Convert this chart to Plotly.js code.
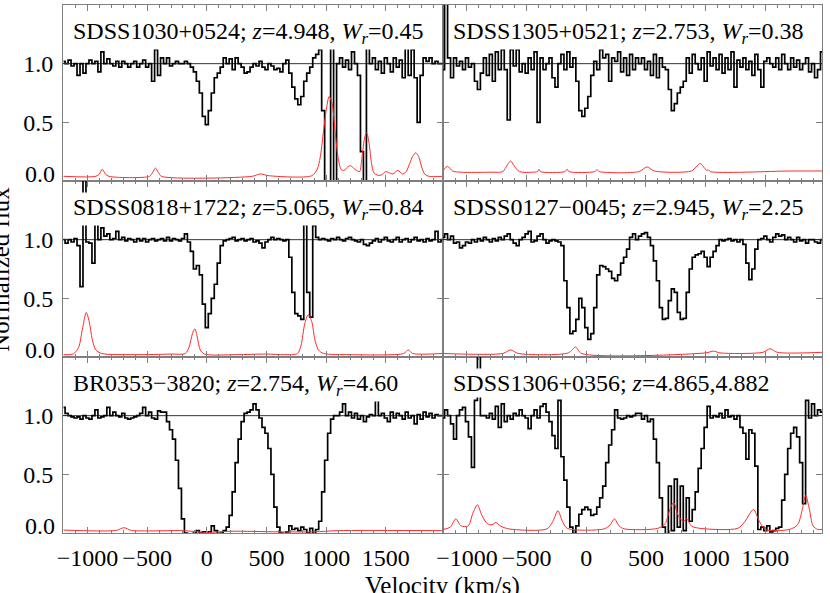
<!DOCTYPE html>
<html>
<head>
<meta charset="utf-8">
<script src="https://cdn.plot.ly/plotly-3.0.1.min.js"></script>
<style>html,body{margin:0;padding:0;background:#fff;}#chart{width:830px;height:593px;}</style>
</head>
<body>
<div id="chart"></div>
<script>
// ---------------- DATA ----------------
// velocity bins: start and width (km/s) of the binned spectra
const V0 = -1200;
const DV = 25;

const names = ["SDSS1030+0524", "SDSS1305+0521", "SDSS0818+1722", "SDSS0127\u22120045", "BR0353\u22123820", "SDSS1306+0356"];
const redshifts = ["4.948", "2.753", "5.065", "2.945", "2.754", "4.865,4.882"];
const widths = ["0.45", "0.38", "0.84", "2.25", "4.60", null];

const xTickVals = [-1000, -500, 0, 500, 1000, 1500];
const xTickText = ["\u22121000", "\u2212500", "0", "500", "1000", "1500"];
const yTickVals = [0.5, 1.0];
const yTickText = ["0.5", "1.0"];
const yZeroLabel = "0.0";

// normalized flux per panel
const flux1 = [
 1.02,1.0,1.03,0.98,1.0,0.9,1.0,0.92,1.0,1.03,
 1.0,1.02,0.93,1.1,1.0,1.04,1.0,0.98,1.02,0.97,
 1.02,1.0,0.97,1.0,1.02,0.97,1.0,1.03,0.97,1.0,
 0.85,1.12,0.9,1.05,1.0,1.05,0.98,1.0,1.02,1.0,
 1.0,1.02,1.0,0.97,0.93,0.85,0.75,0.55,0.48,0.6,
 0.75,0.88,0.92,0.97,1.05,1.0,1.04,0.95,1.05,1.0,
 0.97,0.92,0.93,0.97,1.0,0.98,1.02,0.97,0.95,1.0,
 0.98,0.95,0.96,0.93,1.0,1.03,0.92,0.8,0.7,0.65,
 0.72,0.85,0.92,0.97,1.05,1.08,1.12,0.6,-0.15,-0.15,
 1.15,-0.1,1.0,1.05,0.97,1.03,0.95,1.1,1.0,0.9,
 0.25,-0.1,1.15,1.0,1.05,0.95,1.02,0.92,1.05,1.0,
 0.93,1.05,0.97,1.03,0.88,1.15,0.9,1.12,0.88,0.5,
 0.9,1.05,1.02,1.05,1.0,1.02,1.0,1.0];
const flux2 = [
 0.95,1.7,1.05,0.88,1.05,0.98,1.02,0.95,1.05,0.97,
 1.0,0.85,0.78,0.92,1.05,0.9,1.08,0.85,1.1,0.95,
 1.12,0.95,0.52,1.12,0.98,1.12,0.93,1.0,0.92,1.05,
 0.95,1.1,0.5,1.05,0.95,1.0,1.05,0.88,0.8,1.0,
 1.08,0.95,1.1,0.97,1.05,0.85,0.6,0.55,0.62,0.72,
 0.9,1.02,0.95,1.12,1.05,1.08,0.85,1.05,1.02,1.1,
 0.93,1.05,0.9,1.08,0.95,1.05,1.0,1.05,0.95,1.02,
 0.9,1.08,0.88,1.05,0.97,0.95,0.78,0.6,0.66,0.75,
 0.8,0.85,1.05,0.92,1.08,1.0,0.95,1.05,0.85,1.1,
 0.98,1.05,0.95,1.08,0.92,1.05,0.95,1.1,0.8,1.03,
 0.97,1.05,0.95,1.02,0.9,1.08,0.95,0.8,1.02,1.05,
 1.0,0.97,1.05,0.95,1.08,1.0,0.95,1.05,0.97,1.03,
 0.95,1.0,1.05,0.93,1.0,0.88,0.95,1.1];
const flux3 = [
 1.0,0.97,1.0,0.98,1.01,0.95,0.6,1.8,0.98,0.97,
 0.8,1.14,1.0,1.1,1.03,1.05,1.0,1.01,1.07,1.0,
 1.02,0.99,1.01,1.0,0.98,1.01,0.99,1.01,0.98,1.0,
 1.01,0.99,1.0,1.01,0.99,1.02,0.99,1.01,1.0,0.99,
 1.01,1.05,0.98,0.9,0.75,0.78,0.7,0.45,0.25,0.37,
 0.5,0.62,0.8,0.95,0.99,1.0,1.01,1.02,0.99,1.0,
 1.01,0.99,1.0,1.01,0.98,0.99,0.97,0.93,0.98,1.0,
 1.02,1.0,1.01,1.0,0.99,1.0,0.85,0.55,0.37,0.35,
 0.32,1.13,0.55,0.34,1.12,1.02,1.0,1.01,1.0,0.99,
 1.01,1.0,1.02,1.0,0.99,1.01,1.02,1.0,0.99,0.98,
 1.0,0.96,0.95,0.97,0.99,1.01,0.98,1.0,1.02,0.99,
 0.98,1.0,1.02,0.98,1.0,1.01,0.98,1.0,1.02,0.99,
 1.0,0.98,1.01,0.99,1.0,1.07,0.98,1.0];
const flux4 = [
 1.02,1.05,1.0,1.03,0.97,0.98,0.93,0.95,0.98,0.97,
 1.0,0.98,1.01,0.99,1.02,1.0,0.98,1.01,0.99,1.02,
 1.0,1.03,1.05,1.0,0.97,0.95,1.0,1.02,1.05,1.07,
 0.98,0.99,1.03,1.05,1.0,0.97,0.99,1.0,0.99,0.98,
 0.95,0.65,0.42,0.2,0.22,0.32,0.5,0.42,0.25,0.15,
 0.2,0.42,0.7,0.78,0.77,0.75,0.73,0.67,0.65,0.7,
 0.8,0.85,0.92,1.02,1.05,1.0,1.03,1.05,1.06,1.02,
 0.95,0.82,0.65,0.42,0.32,0.33,0.48,0.58,0.55,0.38,
 0.32,0.33,0.55,0.75,0.85,0.87,0.88,0.9,0.85,0.77,
 0.85,0.9,0.95,1.0,0.99,1.0,1.01,0.99,1.0,0.98,
 1.0,0.96,0.8,0.66,0.75,0.92,1.0,1.01,1.03,1.0,
 0.98,1.02,1.05,1.03,1.04,1.0,1.02,1.0,0.98,1.02,
 0.99,1.0,0.97,1.0,1.0,0.98,0.97,1.0];
const flux5 = [
 1.07,1.02,1.0,0.99,0.98,0.99,0.97,1.0,0.98,0.97,
 1.0,1.05,0.98,0.99,1.0,1.07,1.0,1.03,1.0,0.99,
 1.02,0.98,0.97,0.98,0.99,1.0,1.02,1.07,1.0,1.03,
 0.98,0.97,1.04,1.03,1.03,0.95,0.88,0.8,0.62,0.38,
 0.12,0.0,-0.02,-0.01,0.0,0.02,0.0,0.01,-0.02,0.01,
 0.06,0.02,-0.02,0.0,0.02,0.05,0.15,0.35,0.6,0.8,
 0.95,1.02,1.03,1.05,1.1,1.05,0.98,0.9,0.85,0.72,
 0.5,0.22,0.05,0.0,-0.02,0.01,0.06,0.03,0.04,0.02,
 0.05,0.03,0.0,0.04,0.0,0.03,0.1,0.35,0.62,0.85,
 0.97,1.0,1.0,1.03,1.1,1.0,1.03,0.98,1.02,0.97,
 1.0,0.95,0.99,1.01,1.0,1.13,1.0,1.02,0.98,0.95,
 1.03,0.98,1.02,1.0,0.97,1.03,0.98,1.0,0.93,1.01,
 0.97,1.03,0.99,1.02,0.98,1.01,1.0,1.0];
const flux6 = [
 0.98,1.05,1.0,0.93,0.8,1.0,1.05,1.07,0.95,0.82,
 0.56,1.13,1.8,1.0,1.0,0.98,1.02,0.97,1.08,0.9,
 1.1,0.95,1.0,0.97,1.02,1.0,1.05,1.0,0.98,0.89,
 1.0,1.05,0.98,1.08,1.1,1.03,0.95,0.83,0.72,1.13,
 0.65,0.45,0.22,0.05,-0.01,0.06,0.16,0.2,0.22,0.2,
 0.15,0.16,0.22,0.3,0.4,0.6,0.75,0.88,1.05,0.98,
 0.97,0.98,1.0,0.99,1.0,1.02,1.02,0.97,1.0,0.95,
 0.97,0.8,0.6,0.3,0.05,-0.02,0.4,0.02,0.46,0.05,
 0.4,0.02,0.3,0.1,0.2,0.35,0.55,0.72,0.9,1.08,
 0.98,1.0,0.99,1.02,0.98,1.05,0.99,1.0,0.97,1.0,
 0.9,0.85,0.63,0.88,0.85,0.57,0.03,0.05,0.02,0.06,
 0.01,0.02,0.04,0.05,0.28,0.5,0.72,0.85,0.9,0.82,
 0.6,0.25,1.13,0.98,1.1,1.0,1.05,1.03];

// error spectra (velocity, value)
const errV1 = [-1200,-930,-900,-877,-850,-820,-480,-455,-430,-405,-380,380,448,520,880,925,950,975,1000,1025,1050,1075,1100,1125,1150,1180,1205,1230,1255,1280,1300,1325,1340,1360,1380,1400,1430,1460,1500,1530,1560,1600,1640,1670,1700,1725,1750,1775,1800,1825,1860,1975];
const errF1 = [0.04,0.04,0.06,0.1,0.06,0.04,0.04,0.07,0.11,0.07,0.04,0.04,0.06,0.045,0.045,0.1,0.2,0.4,0.6,0.72,0.66,0.42,0.2,0.1,0.09,0.12,0.13,0.11,0.09,0.08,0.2,0.38,0.41,0.32,0.15,0.07,0.05,0.05,0.08,0.07,0.06,0.09,0.06,0.08,0.15,0.21,0.24,0.21,0.12,0.06,0.04,0.04];
const errV2 = [-1200,-1163,-1120,-1050,-800,-700,-660,-634,-605,-560,-450,-410,-397,-385,-180,-160,-145,70,90,110,440,509,570,880,920,955,990,1010,1024,1040,1700,1975];
const errF2 = [0.09,0.125,0.085,0.075,0.075,0.08,0.14,0.17,0.13,0.08,0.075,0.08,0.1,0.08,0.08,0.1,0.08,0.08,0.095,0.08,0.08,0.12,0.085,0.085,0.12,0.15,0.11,0.09,0.095,0.08,0.085,0.085];
const errV3 = [-1200,-1120,-1075,-1040,-1010,-985,-960,-930,-880,-600,-300,-180,-150,-120,-100,-80,-55,-20,250,500,650,760,790,820,850,880,905,935,980,1200,1650,1688,1725,1975];
const errF3 = [0.02,0.025,0.08,0.25,0.38,0.3,0.15,0.06,0.03,0.02,0.025,0.03,0.08,0.2,0.24,0.17,0.06,0.025,0.02,0.025,0.02,0.03,0.1,0.28,0.36,0.3,0.15,0.06,0.03,0.02,0.03,0.06,0.03,0.03];
const errV4 = [-1200,-700,-634,-570,-150,-90,-40,1000,1066,1120,1480,1540,1600,1975];
const errF4 = [0.03,0.03,0.06,0.03,0.035,0.085,0.03,0.035,0.05,0.035,0.04,0.07,0.04,0.04];
const errV5 = [-1200,-760,-695,-630,-200,0,200,600,900,1100,1975];
const errF5 = [0.025,0.022,0.045,0.022,0.02,0.005,0.015,0.01,0.01,0.02,0.02];
const errV6 = [-1200,-1140,-1094,-1050,-990,-950,-913,-875,-830,-790,-759,-720,-650,-330,-280,-238,-200,-160,150,200,236,275,320,600,660,700,732,770,810,843,880,950,1270,1330,1400,1450,1500,1700,1770,1810,1838,1870,1900,1940,1975];
const errF6 = [0.03,0.05,0.12,0.06,0.06,0.17,0.24,0.15,0.08,0.07,0.09,0.06,0.035,0.035,0.1,0.19,0.1,0.04,0.035,0.07,0.12,0.06,0.035,0.04,0.08,0.2,0.26,0.15,0.1,0.12,0.06,0.04,0.04,0.1,0.2,0.1,0.03,0.03,0.07,0.2,0.32,0.2,0.06,0.03,0.03];

const continuumLevel = 1.0;

// ---------------- FIGURE ----------------
const FONT = '"Liberation Serif", "Times New Roman", serif';
const TICKSIZE = 24;
const fluxes = [flux1, flux2, flux3, flux4, flux5, flux6];
const errVs = [errV1, errV2, errV3, errV4, errV5, errV6];
const errFs = [errF1, errF2, errF3, errF4, errF5, errF6];

const traces = [];
const layout = {
  width: 830, height: 593,
  margin: {l: 63, r: 8, t: 5, b: 60},
  paper_bgcolor: '#fff', plot_bgcolor: '#fff',
  showlegend: false,
  font: {family: FONT, color: '#000', size: TICKSIZE},
  shapes: [], annotations: []
};

for (let k = 0; k < 6; k++) {
  const n = k + 1;
  const col = k % 2, row = Math.floor(k / 2);
  const xa = 'x' + n, ya = 'y' + n;
  const vel = fluxes[k].map((_, i) => V0 + DV * i);
  traces.push({x: vel, y: fluxes[k], xaxis: xa, yaxis: ya, type: 'scatter', mode: 'lines',
    line: {shape: 'hvh', color: '#000', width: 1.7}, hoverinfo: 'skip'});
  traces.push({x: errVs[k], y: errFs[k], xaxis: xa, yaxis: ya, type: 'scatter', mode: 'lines',
    line: {shape: 'spline', smoothing: 0.8, color: '#ff2a2a', width: 1}, hoverinfo: 'skip'});

  const axCommon = {showline: true, linecolor: '#7f7f7f', linewidth: 1, mirror: 'allticks',
    ticks: 'inside', tickcolor: '#7f7f7f', tickwidth: 1, ticklen: 6,
    showgrid: false, zeroline: false, tickfont: {family: FONT, size: TICKSIZE, color: '#000'}};
  layout['xaxis' + (n === 1 ? '' : n)] = Object.assign({}, axCommon, {
    domain: col === 0 ? [0, 0.5] : [0.5, 1], anchor: ya, range: [-1205, 1975],
    tickmode: 'array', tickvals: xTickVals, ticktext: xTickText,
    minor: {dtick: 100, tick0: 0, ticks: 'inside', ticklen: 3, tickcolor: '#7f7f7f'},
    showticklabels: row === 2, ticklabelstandoff: 3
  });
  layout['yaxis' + (n === 1 ? '' : n)] = Object.assign({}, axCommon, {
    domain: [(2 - row) / 3, (3 - row) / 3], anchor: xa, range: [0, 1.5],
    tickmode: 'array', tickvals: yTickVals, ticktext: yTickText,
    showticklabels: col === 0, ticklabelstandoff: 4
  });
  layout.shapes.push({type: 'line', xref: xa + ' domain', yref: ya, x0: 0, x1: 1,
    y0: continuumLevel, y1: continuumLevel, line: {color: '#000', width: 0.8}});

  let label = names[k] + '; <i>z</i>=' + redshifts[k];
  if (widths[k]) label += ', <i>W</i><sub><i>r</i></sub>=' + widths[k];
  layout.annotations.push({text: label, xref: xa + ' domain', yref: ya + ' domain',
    x: 0.022, y: 1 - 11 / 176, xanchor: 'left', yanchor: 'top', showarrow: false,
    bgcolor: '#fff', borderpad: 1, font: {family: FONT, size: 24, color: '#000'}});
  if (col === 0) {
    layout.annotations.push({text: yZeroLabel, xref: xa + ' domain', yref: ya,
      x: 0, y: 0, xanchor: 'right', yanchor: 'middle', yshift: 7, xshift: -6,
      showarrow: false, font: {family: FONT, size: TICKSIZE, color: '#000'}});
  }
}

layout.annotations.push({text: 'Velocity (km/s)', xref: 'paper', yref: 'paper',
  x: 0.5, y: -0.07, xanchor: 'center', yanchor: 'top', showarrow: false,
  font: {family: FONT, size: 25, color: '#000'}});
layout.annotations.push({text: 'Normalized flux', xref: 'paper', yref: 'paper',
  x: -0.063, y: 0.5, xanchor: 'right', yanchor: 'middle', textangle: -90, showarrow: false,
  font: {family: FONT, size: 25, color: '#000'}});

Plotly.newPlot('chart', traces, layout, {displayModeBar: false, staticPlot: true});
</script>
</body>
</html>
